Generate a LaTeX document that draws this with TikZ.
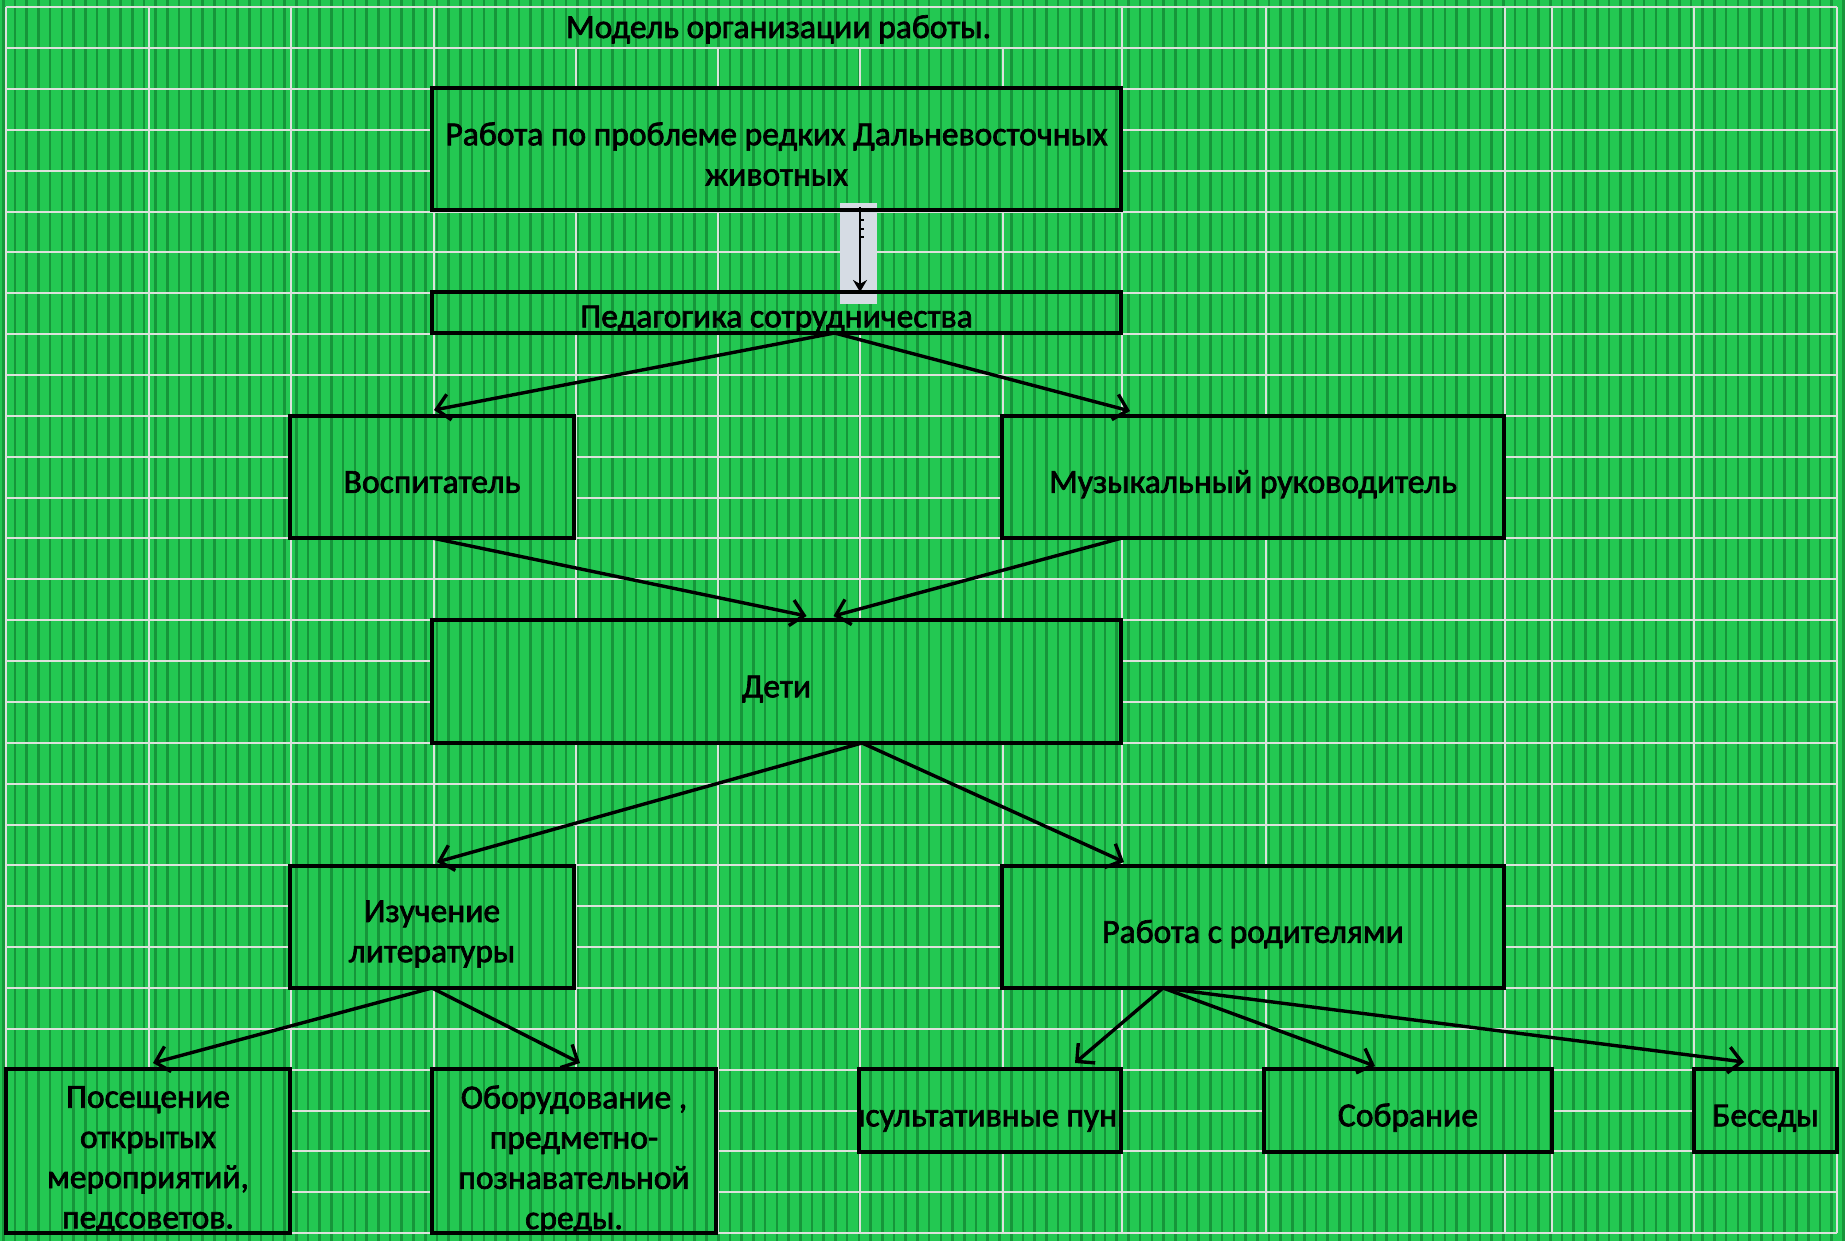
\documentclass[tikz,border=0pt]{standalone}
\usepackage{fontspec}
\setmainfont{Carlito}
\newfontfamily\boxfont[FakeBold=2]{Carlito}
\usetikzlibrary{arrows.meta,calc}
\pgfdeclarelayer{lbg}\pgfdeclarelayer{lfill}\pgfdeclarelayer{lstripe}
\pgfsetlayers{lbg,lfill,lstripe,main}
\definecolor{bggreen}{RGB}{35,200,82}
\definecolor{stripegreen}{RGB}{22,150,58}
\definecolor{gridcol}{RGB}{220,226,220}
\definecolor{greybox}{RGB}{214,220,228}
\newcommand\mystripes{\foreach \i in {0,...,157}{\fill[stripegreen] ({\i*11.72+2},0) rectangle ++(2.6,1241);}}
\begin{document}
\begin{tikzpicture}[x=1pt,y=-1pt,
  box/.style={draw=black,line width=4.6pt,inner sep=0pt,outer sep=0pt},
  lbl/.style={inner sep=0pt,outer sep=0pt,align=center,text=black,
    font=\boxfont\fontsize{33.6}{40.2}\selectfont},
  one/.style={lbl,text height=21.6pt,text depth=0pt},
  arr/.style={line width=3.4pt,-{Straight Barb[length=13pt,width=26pt]}},
  thinarr/.style={line width=2pt,-{Stealth[length=12pt,width=14pt]}},
  gridline/.style={gridcol,line width=2pt},
  greyrect/.style={fill=greybox,inner sep=0pt,outer sep=0pt,minimum width=37pt,minimum height=101pt}]
\useasboundingbox (0,0) rectangle (1845,1241);

% boxes
\node[box,minimum width=689pt,minimum height=122pt] (top) at (776.5,149) {};
\node[box,minimum width=689pt,minimum height=41pt] (ped) at (776.5,312.5) {};
\node[box,minimum width=284pt,minimum height=122pt] (vosp) at (432,477) {};
\node[box,minimum width=502pt,minimum height=122pt] (muz) at (1253,477) {};
\node[box,minimum width=689pt,minimum height=123pt] (deti) at (776.5,681.5) {};
\node[box,minimum width=284pt,minimum height=122pt] (izuch) at (432,927) {};
\node[box,minimum width=502pt,minimum height=122pt] (rod) at (1253,927) {};
\node[box,minimum width=284pt,minimum height=164pt] (pos) at (148,1151) {};
\node[box,minimum width=284pt,minimum height=164pt] (obor) at (574,1151) {};
\node[box,minimum width=262pt,minimum height=83pt] (kons) at (990,1110.5) {};
\node[box,minimum width=288pt,minimum height=83pt] (sobr) at (1408,1110.5) {};
\node[box,minimum width=143pt,minimum height=83pt] (bes) at (1765.5,1110.5) {};

% texts
\node[lbl,anchor=base] (title) at (778.5,38) {Модель организации работы.};
\node[lbl] (topt) at ([yshift=-5pt]top.center) {Работа по проблеме редких Дальневосточных\\животных};
\node[one] (pedt) at ([yshift=-4pt]ped.center) {Педагогика сотрудничества};
\node[one] (vospt) at ([yshift=-5pt]vosp.center) {Воспитатель};
\node[one] (muzt) at ([yshift=-5pt]muz.center) {Музыкальный руководитель};
\node[one] (detit) at ([yshift=-5pt]deti.center) {Дети};
\node[lbl] (izucht) at ([yshift=-7pt]izuch.center) {Изучение\\литературы};
\node[one] (rodt) at ([yshift=-5pt]rod.center) {Работа с родителями};
\node[lbl] (post) at ([yshift=-9pt]pos.center) {Посещение\\открытых\\мероприятий,\\педсоветов.};
\node[lbl] (obort) at ([yshift=-9pt]obor.center) {Оборудование ,\\предметно-\\познавательной\\среды.};
\begin{scope}
  \clip (kons.south west) rectangle (kons.north east);
  \node[one] (konst) at ([yshift=-5pt]kons.center) {Консультативные пункты};
\end{scope}
\node[one] (sobrt) at ([yshift=-5pt]sobr.center) {Собрание};
\node[one] (best) at ([yshift=-5pt]bes.center) {Беседы};

% background layers
\begin{pgfonlayer}{lbg}
  \fill[bggreen] (0,0) rectangle (1845,1241);
  \mystripes
  \foreach \k in {0,...,30} \draw[gridline] (6,{7.3+40.86*\k}) -- (1837,{7.3+40.86*\k});
  \foreach \xx in {6,149,291,434,1122,1266,1505,1552,1694,1837} \draw[gridline] (\xx,7.3) -- (\xx,1233.1);
  \foreach \xx in {576,718,860,1003} \draw[gridline] (\xx,48.2) -- (\xx,1233.1);
\end{pgfonlayer}
\begin{pgfonlayer}{lfill}
  \foreach \n in {top,ped,vosp,muz,deti,izuch,rod,pos,obor,kons,sobr,bes}
    \fill[bggreen] (\n.south west) rectangle (\n.north east);
\end{pgfonlayer}
\begin{pgfonlayer}{lstripe}
  \begin{scope}
    \clip (top.south west) rectangle (top.north east)
          (ped.south west) rectangle (ped.north east)
          (vosp.south west) rectangle (vosp.north east)
          (muz.south west) rectangle (muz.north east)
          (deti.south west) rectangle (deti.north east)
          (izuch.south west) rectangle (izuch.north east)
          (rod.south west) rectangle (rod.north east)
          (pos.south west) rectangle (pos.north east)
          (obor.south west) rectangle (obor.north east)
          (kons.south west) rectangle (kons.north east)
          (sobr.south west) rectangle (sobr.north east)
          (bes.south west) rectangle (bes.north east);
    \mystripes
  \end{scope}
  \node[greyrect] (grey) at (858.5,253.5) {};
\end{pgfonlayer}

% connectors
\draw[thinarr] ([xshift=1.5pt,yshift=-4pt]grey.north) -- ([xshift=1.5pt]ped.north -| grey.center);
\foreach \ty in {220,229,237} \draw[line width=1.2pt] (861,\ty) -- (864,\ty);

\coordinate (pedout) at ([xshift=58pt]ped.south);
\draw[arr] (pedout) -- ([xshift=2pt,yshift=6pt]vosp.north);
\draw[arr] (pedout) -- ([xshift=-123pt,yshift=5pt]muz.north);
\draw[arr] (vosp.south) -- ([xshift=30pt,yshift=4pt]deti.north);
\draw[arr] ([xshift=-131pt]muz.south) -- ([xshift=57pt,yshift=4pt]deti.north);
\coordinate (detiout) at ([xshift=85.5pt]deti.south);
\draw[arr] (detiout) -- ([xshift=5pt,yshift=4pt]izuch.north);
\draw[arr] (detiout) -- ([xshift=-129pt,yshift=4pt]rod.north);
\draw[arr] (izuch.south) -- ([xshift=5pt,yshift=6pt]pos.north);
\draw[arr] (izuch.south) -- ([xshift=6pt,yshift=6pt]obor.north);
\coordinate (rodout) at ([xshift=-90pt]rod.south);
\draw[arr] (rodout) -- ([xshift=85pt,yshift=6pt]kons.north);
\draw[arr] (rodout) -- ([xshift=-33pt,yshift=3pt]sobr.north);
\draw[arr] (rodout) -- ([xshift=-21.5pt,yshift=7pt]bes.north);
\end{tikzpicture}
\end{document}
